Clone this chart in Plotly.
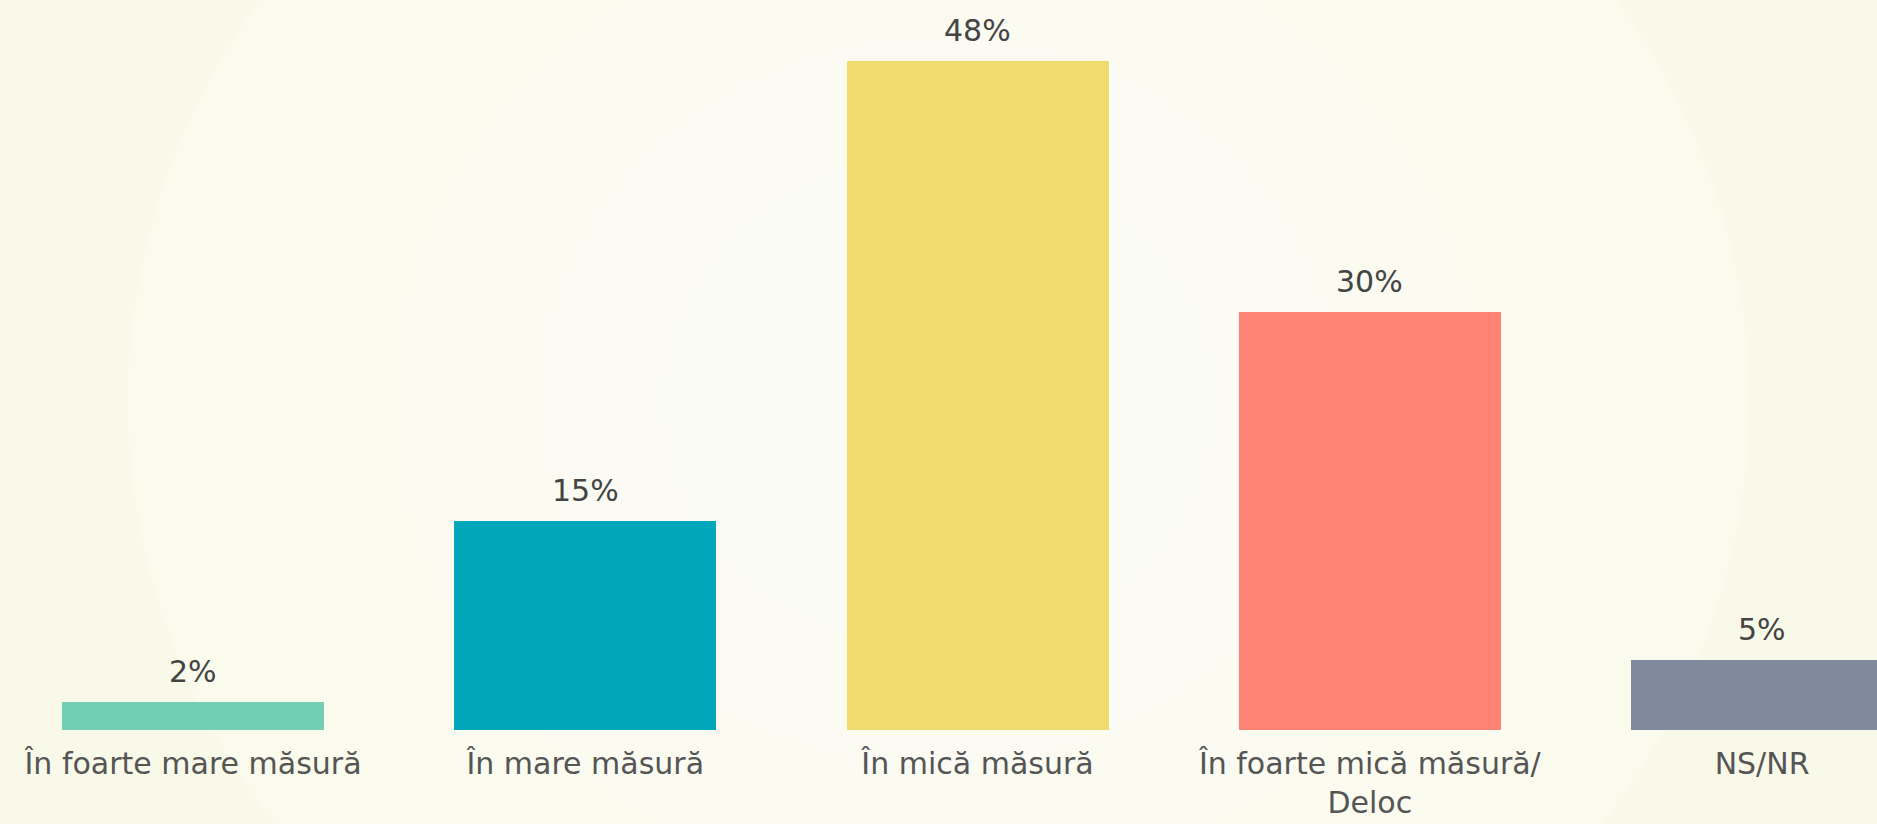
import plotly.graph_objects as go

categories = ["În foarte mare măsură", "În mare măsură", "În mică măsură",
              "În foarte mică măsură/<br>Deloc", "NS/NR"]
values = [2, 15, 48, 30, 5]
labels = ["2%", "15%", "48%", "30%", "5%"]
colors = ["#71cfb4", "#00a7ba", "#f0dc6c", "#ff8475", "#7f8a9e"]

FONT = "DejaVu Sans"
xs = list(range(len(categories)))

fig = go.Figure()
fig.add_trace(go.Bar(
    x=xs, y=values, width=0.668,
    marker=dict(color=colors, line=dict(width=0)),
    hoverinfo="skip",
))

for x, v, t in zip(xs, values, labels):
    fig.add_annotation(x=x, y=v, text=t, showarrow=False, yanchor="bottom",
                       yshift=11, font=dict(family=FONT, size=30, color="#444444"))

# soft radial glow in background
shapes = []
for i, r in enumerate([0.48, 0.40, 0.32, 0.24, 0.16]):
    shapes.append(dict(type="circle", xref="paper", yref="paper", layer="below",
                       x0=0.5 - r * 0.9, x1=0.5 + r * 0.9, y0=0.45 - r * 2.1, y1=0.45 + r * 2.1,
                       fillcolor="rgba(255,255,255,0.18)", line=dict(width=0)))

fig.update_layout(
    width=1877, height=824,
    margin=dict(l=0, r=0, t=0, b=94, autoexpand=False),
    paper_bgcolor="#f9f9ea",
    plot_bgcolor="rgba(0,0,0,0)",
    showlegend=False,
    bargap=0,
    shapes=shapes,
    xaxis=dict(range=[-0.492, 4.293], tickvals=xs, ticktext=categories,
               showgrid=False, zeroline=False, showline=False, ticks="",
               tickfont=dict(family=FONT, size=30, color="#555555"),
               ticklabelstandoff=13, automargin=False, fixedrange=True),
    yaxis=dict(range=[0, 52.37], visible=False, automargin=False, fixedrange=True),
)

fig.write_html("out.html", config={"displayModeBar": False},
               post_script="document.body.style.margin='0';document.body.style.overflow='hidden';")
